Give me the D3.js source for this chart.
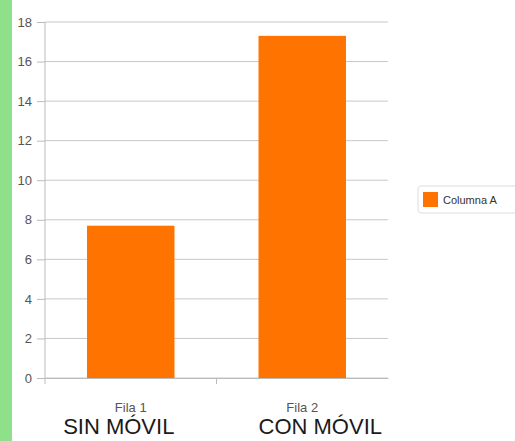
<!DOCTYPE html>
<html lang="es">
<head>
<meta charset="UTF-8">
<title>Columna A</title>
<script src="https://cdn.jsdelivr.net/npm/d3@7"></script>
<style>
  body { margin: 0; background: #fff; }
  .axis text { fill: #555; font-family: 'Liberation Sans', Arial, sans-serif; font-size: 13px; }
  .grid line { stroke: #c8c8c8; }
  .big { font-family: 'Liberation Sans', Arial, sans-serif; font-size: 22px; fill: #1a1a1a; }
  .leg { font-family: 'Liberation Sans', Arial, sans-serif; font-size: 11px; fill: #333; }
</style>
</head>
<body>
<div class="container"></div>
<script>
  var categories = ["Fila 1", "Fila 2"];
  var subLabels = ["SIN MÓVIL", "CON MÓVIL"];
  var values = [7.7, 17.3];
  var yTicks = [0, 2, 4, 6, 8, 10, 12, 14, 16, 18];
  var seriesName = "Columna A";

  var margin = {top: 22, left: 45, right: 127, bottom: 63};
  var svgWidth = 515, svgHeight = 441;
  var width = svgWidth - margin.left - margin.right;
  var height = svgHeight - margin.top - margin.bottom;
  var orange = "#ff7400";

  var svg = d3.select('.container').append('svg')
    .attr('width', svgWidth).attr('height', svgHeight);

  // green strip on the left edge
  svg.append('rect').attr('x', 0).attr('y', 0).attr('width', 12).attr('height', svgHeight)
    .attr('fill', '#8fe08b');

  var x = d3.scaleBand().domain(categories).range([0, width])
    .paddingInner(0.49).paddingOuter(0.245);
  var y = d3.scaleLinear().domain([0, 18]).range([height, 0]);

  var g = svg.append('g').attr('transform', `translate(${margin.left},${margin.top})`);

  // y ticks
  var yAxis = d3.axisLeft(y).tickValues(yTicks).tickSize(8).tickPadding(5);
  var ya = g.append('g').attr('class', 'axis').call(yAxis);
  ya.select('.domain').remove();
  ya.selectAll('line').attr('stroke', '#bbb');

  // gridlines
  g.append('g').attr('class', 'grid').selectAll('line').data(yTicks).enter().append('line')
    .attr('x1', 0).attr('x2', width)
    .attr('y1', d => y(d)).attr('y2', d => y(d));

  g.append('line').attr('x1', 0).attr('x2', 0).attr('y1', 0).attr('y2', height + 6)
    .attr('stroke', '#bbb');

  // bars
  g.selectAll('.bar').data(values).enter().append('rect')
    .attr('class', 'bar')
    .attr('x', (d, i) => x(categories[i]))
    .attr('width', x.bandwidth())
    .attr('y', d => y(d))
    .attr('height', d => height - y(d))
    .attr('fill', orange);

  // x axis
  var xa = g.append('g').attr('class', 'axis').attr('transform', `translate(0,${height})`)
    .call(d3.axisBottom(x).tickSize(0).tickPadding(25));
  xa.select('.domain').attr('stroke', '#bbb');
  xa.selectAll('text').attr('font-size', '10px');
  g.append('line').attr('x1', width / 2).attr('x2', width / 2)
    .attr('y1', height).attr('y2', height + 6).attr('stroke', '#bbb');

  // hand-added captions under the categories
  var captionShift = [-12, 18];
  g.selectAll('.big').data(subLabels).enter().append('text')
    .attr('class', 'big')
    .attr('x', (d, i) => x(categories[i]) + x.bandwidth() / 2 + captionShift[i])
    .attr('y', height + 56)
    .attr('text-anchor', 'middle')
    .text(d => d);

  // legend
  var leg = svg.append('g').attr('transform', 'translate(418,186)');
  leg.append('rect').attr('width', 110).attr('height', 27).attr('rx', 3)
    .attr('fill', '#fff').attr('stroke', '#ddd');
  leg.append('rect').attr('x', 5).attr('y', 6).attr('width', 15).attr('height', 15)
    .attr('fill', orange);
  leg.append('text').attr('class', 'leg').attr('x', 25).attr('y', 18).text(seriesName);
</script>
</body>
</html>
